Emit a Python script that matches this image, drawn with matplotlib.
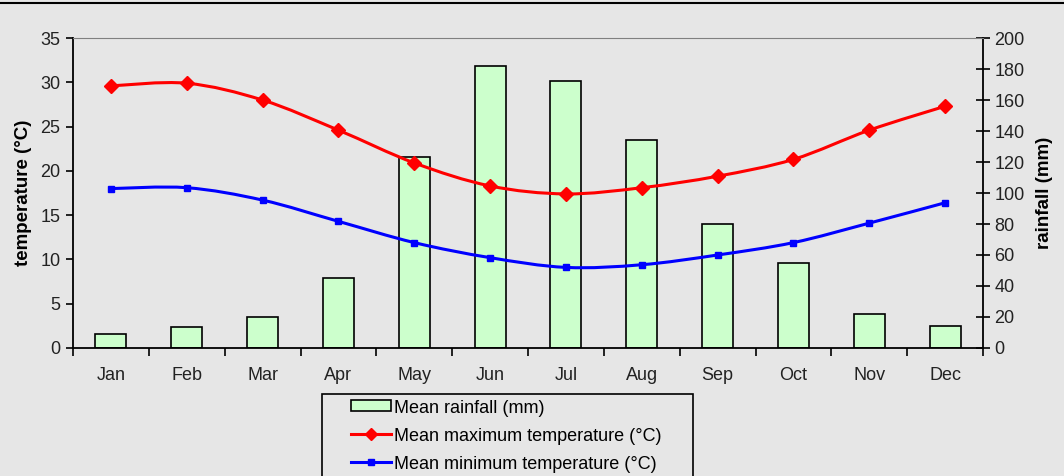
import numpy as np
import matplotlib
matplotlib.use("Agg")
import matplotlib.pyplot as plt
from matplotlib.path import Path
from matplotlib.patches import PathPatch, Patch
from matplotlib.lines import Line2D
from matplotlib.legend_handler import HandlerLine2D, HandlerPatch

months = ['Jan', 'Feb', 'Mar', 'Apr', 'May', 'Jun', 'Jul', 'Aug', 'Sep', 'Oct', 'Nov', 'Dec']
rainfall = [9, 13.5, 20, 45, 123, 182, 172, 134, 80, 55, 22, 14]
max_temp = [29.6, 29.9, 28.0, 24.6, 20.9, 18.3, 17.4, 18.1, 19.4, 21.3, 24.6, 27.3]
min_temp = [18.0, 18.1, 16.7, 14.3, 11.9, 10.2, 9.1, 9.4, 10.5, 11.9, 14.1, 16.4]

plt.rcParams['font.family'] = ['Liberation Sans', 'DejaVu Sans']
BG = '#e6e6e6'
FS = 13


def smooth_path(x, y):
    # Excel-style smoothed line: Catmull-Rom segments drawn as cubic Beziers
    pts = np.column_stack([x, y]).astype(float)
    ext = np.vstack([pts[0], pts, pts[-1]])
    verts = [pts[0]]
    codes = [Path.MOVETO]
    for i in range(1, len(ext) - 2):
        p0, p1, p2, p3 = ext[i - 1], ext[i], ext[i + 1], ext[i + 2]
        verts += [p1 + (p2 - p0) / 6, p2 - (p3 - p1) / 6, p2]
        codes += [Path.CURVE4] * 3
    return Path(verts, codes)


fig = plt.figure(figsize=(10.64, 4.76), dpi=100, facecolor=BG)
ax = fig.add_axes([0.0686, 0.269, 0.8553, 0.651])
ax2 = ax.twinx()
ax.set_zorder(ax2.get_zorder() + 1)
ax.patch.set_visible(False)
ax2.set_facecolor(BG)

x = np.arange(len(months))
ax2.bar(x, rainfall, width=0.41, color='#ccffcc', edgecolor='black', linewidth=1.2)
ax2.set_ylim(0, 200)
ax2.set_yticks(np.arange(0, 201, 20))

for vals, col, mk, ms in [(max_temp, '#ff0000', 'D', 7), (min_temp, '#0000ff', 's', 4.5)]:
    ax.add_patch(PathPatch(smooth_path(x, vals), facecolor='none', edgecolor=col, lw=2.2))
    ax.plot(x, vals, linestyle='none', marker=mk, color=col, markersize=ms)

ax.set_ylim(0, 35)
ax.set_yticks(np.arange(0, 36, 5))
ax.set_xlim(-0.5, 11.5)
ax.set_xticks(np.arange(-0.5, 12, 1))
ax.set_xticklabels([])
ax.set_xticks(x, minor=True)
ax.set_xticklabels(months, minor=True)
ax.tick_params(axis='x', which='major', direction='out', length=6, width=1.2)
ax.tick_params(axis='x', which='minor', length=0, pad=14, labelsize=FS, labelcolor='#222222')
ax.tick_params(axis='y', direction='out', length=5, width=1.2, pad=4, labelsize=FS, labelcolor='#222222')
ax2.tick_params(axis='y', direction='inout', length=10, width=1.2, pad=3, labelsize=FS, labelcolor='#222222')

for a in (ax, ax2):
    for s in a.spines.values():
        s.set_visible(False)
ax.spines['left'].set_visible(True)
ax.spines['bottom'].set_visible(True)
ax.spines['top'].set_visible(True)
ax.spines['top'].set_color('#808080')
ax2.spines['right'].set_visible(True)
for s in ('left', 'bottom'):
    ax.spines[s].set_linewidth(1.3)
ax2.spines['right'].set_linewidth(1.3)

ax.set_ylabel('temperature (°C)', fontsize=13.5, fontweight='bold', labelpad=6)
ax2.set_ylabel('rainfall (mm)', fontsize=13.5, fontweight='bold', rotation=90, labelpad=8)

# legend: handles sit indented inside a wide box, as in the original
indent = 1.22
handles = [
    Patch(facecolor='#ccffcc', edgecolor='black', linewidth=1.2),
    Line2D([], [], color='#ff0000', lw=2.2, marker='D', markersize=6),
    Line2D([], [], color='#0000ff', lw=2.2, marker='s', markersize=4),
]
labels = ['Mean rainfall (mm)', 'Mean maximum temperature (°C)     ', 'Mean minimum temperature (°C)']
hmap = {
    handles[0]: HandlerPatch(xpad=indent, ypad=0.1),
    handles[1]: HandlerLine2D(xpad=indent),
    handles[2]: HandlerLine2D(xpad=indent),
}
leg = fig.legend(handles, labels, loc='upper left', bbox_to_anchor=(0.303, 0.173),
                 fontsize=FS, frameon=True, fancybox=False, facecolor=BG, edgecolor='black',
                 handlelength=3.43, handletextpad=0.17, labelspacing=0.6, borderpad=0.35,
                 borderaxespad=0, handler_map=hmap)
leg.get_frame().set_linewidth(1.2)
leg.get_frame().set_alpha(1)

fig.add_artist(Line2D([0, 1], [0.994, 0.994], transform=fig.transFigure, color='black', lw=1.5))

fig.savefig('out.png', dpi=100, facecolor=BG)
